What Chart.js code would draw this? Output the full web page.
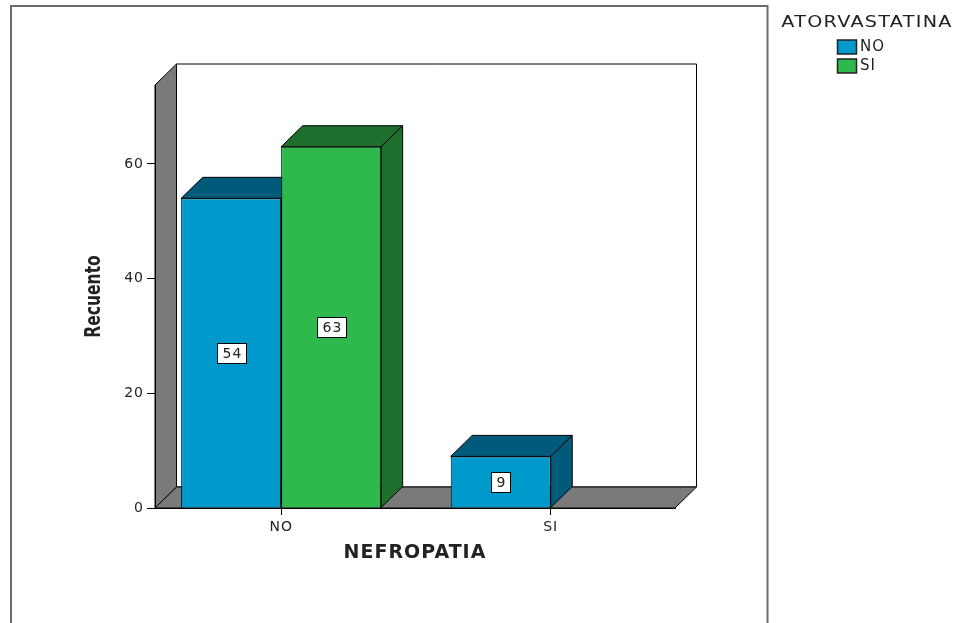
<!DOCTYPE html>
<html>
<head>
<meta charset="utf-8">
<script src="https://cdn.jsdelivr.net/npm/chart.js@4/dist/chart.umd.min.js"></script>
<style>
  html, body { margin: 0; padding: 0; background: #fff; }
  canvas { display: block; }
</style>
</head>
<body>
<canvas id="chart" width="959" height="623"></canvas>
<script>
// NEFROPATIA categories on the x axis
const categories = ['NO', 'SI'];
// ATORVASTATINA groups (legend)
const seriesNames = ['NO', 'SI'];
// Counts (Recuento) per NEFROPATIA category
const countsAtorvNo = [54, 9];
const countsAtorvSi = [63, 0];
// Value axis ticks
const yTicks = [0, 20, 40, 60];

const legendTitle = 'ATORVASTATINA';
const xTitle = 'NEFROPATIA';
const yTitle = 'Recuento';

// colours: front face, top/side face
const frontColors = ['#0099CB', '#2FB84B'];
const shadeColors = ['#005A7A', '#1E6E2E'];
const wallColor = '#7A7A7A';
const textColor = '#222';

// 3D depth offset in pixels
const DX = 21.5, DY = 21;

const depthPlugin = {
  id: 'depth3d',
  beforeDraw(chart) {
    const ctx = chart.ctx;
    const { left: L, right: R, top: T, bottom: B } = chart.chartArea;
    ctx.save();
    ctx.fillStyle = '#fff';
    ctx.fillRect(0, 0, chart.width, chart.height);
    // outer frame
    ctx.strokeStyle = '#6c6c6c';
    ctx.lineWidth = 2;
    ctx.strokeRect(11, 6, 756.5, 700);
    // back wall
    ctx.lineWidth = 1;
    ctx.strokeStyle = '#000';
    ctx.fillStyle = '#fff';
    ctx.beginPath();
    ctx.rect(L + DX, T - DY, R - L, B - T);
    ctx.fill(); ctx.stroke();
    // side wall
    ctx.fillStyle = wallColor;
    ctx.beginPath();
    ctx.moveTo(L, T); ctx.lineTo(L + DX, T - DY); ctx.lineTo(L + DX, B - DY); ctx.lineTo(L, B); ctx.closePath();
    ctx.fill(); ctx.stroke();
    // floor
    ctx.beginPath();
    ctx.moveTo(L, B); ctx.lineTo(R, B); ctx.lineTo(R + DX, B - DY); ctx.lineTo(L + DX, B - DY); ctx.closePath();
    ctx.fill(); ctx.stroke();
    ctx.restore();
    // spacing for the axis texts
    ctx.letterSpacing = '1px';
  },
  beforeDatasetsDraw(chart) {
    const ctx = chart.ctx;
    ctx.save();
    ctx.strokeStyle = '#000';
    ctx.lineWidth = 1;
    chart.data.datasets.forEach((ds, di) => {
      const meta = chart.getDatasetMeta(di);
      meta.data.forEach((bar, i) => {
        if (!ds.data[i].y) return;
        const { x, y, base, width } = bar.getProps(['x', 'y', 'base', 'width'], true);
        const l = x - width / 2, r = x + width / 2;
        ctx.fillStyle = shadeColors[di];
        // top face
        ctx.beginPath();
        ctx.moveTo(l, y); ctx.lineTo(r, y); ctx.lineTo(r + DX, y - DY); ctx.lineTo(l + DX, y - DY); ctx.closePath();
        ctx.fill(); ctx.stroke();
        // side face
        ctx.beginPath();
        ctx.moveTo(r, y); ctx.lineTo(r + DX, y - DY); ctx.lineTo(r + DX, base - DY); ctx.lineTo(r, base); ctx.closePath();
        ctx.fill(); ctx.stroke();
      });
    });
    ctx.restore();
  },
  afterDatasetsDraw(chart) {
    const ctx = chart.ctx;
    ctx.save();
    ctx.font = '14px "DejaVu Sans"';
    ctx.textAlign = 'center';
    ctx.textBaseline = 'middle';
    chart.data.datasets.forEach((ds, di) => {
      const meta = chart.getDatasetMeta(di);
      meta.data.forEach((bar, i) => {
        const v = ds.data[i].y;
        if (!v) return;
        const { x, y, base } = bar.getProps(['x', 'y', 'base'], true);
        const cy = (y + base) / 2;
        const txt = String(v);
        const w = Math.round(ctx.measureText(txt).width + 9);
        const h = 20;
        const bx = Math.round(x - w / 2) + 0.5, by = Math.round(cy - h / 2) + 0.5;
        ctx.fillStyle = '#fff';
        ctx.strokeStyle = '#000';
        ctx.lineWidth = 1;
        ctx.fillRect(bx, by, w, h);
        ctx.strokeRect(bx, by, w, h);
        ctx.fillStyle = textColor;
        ctx.fillText(txt, bx + w / 2 + 0.5, by + h / 2 + 1);
      });
    });
    ctx.restore();
  },
  afterDraw(chart) {
    const ctx = chart.ctx;
    const { top, bottom } = chart.scales.y;
    ctx.save();
    ctx.fillStyle = textColor;
    ctx.textBaseline = 'middle';
    ctx.textAlign = 'center';
    // value axis title, narrow bold face
    ctx.save();
    ctx.translate(95, (top + bottom) / 2);
    ctx.rotate(-Math.PI / 2);
    ctx.scale(0.74, 1);
    ctx.letterSpacing = '0px';
    ctx.font = 'bold 21px "DejaVu Sans"';
    ctx.fillText(yTitle, 0, 0);
    ctx.restore();
    // legend title
    ctx.save();
    ctx.translate(867, 23);
    ctx.scale(1.28, 1);
    ctx.letterSpacing = '1px';
    ctx.font = '15px "DejaVu Sans"';
    ctx.fillText(legendTitle, 0, 0);
    ctx.restore();
    // legend entries
    ctx.letterSpacing = '1px';
    ctx.font = '15px "DejaVu Sans"';
    ctx.textAlign = 'left';
    chart.data.datasets.forEach((ds, i) => {
      const yy = 40 + i * 19;
      ctx.fillStyle = frontColors[i];
      ctx.strokeStyle = '#222';
      ctx.lineWidth = 1.5;
      ctx.fillRect(837.5, yy, 19, 14);
      ctx.strokeRect(837.5, yy, 19, 14);
      ctx.fillStyle = textColor;
      ctx.fillText(ds.label, 860, yy + 7.5);
    });
    ctx.restore();
    ctx.letterSpacing = '0px';
  }
};

const makeSeries = (vals) => vals.map((v, i) => ({ x: i, y: v }));

new Chart(document.getElementById('chart'), {
  type: 'bar',
  data: {
    datasets: [
      { label: seriesNames[0], data: makeSeries(countsAtorvNo), backgroundColor: frontColors[0], borderColor: '#000', borderWidth: 1 },
      { label: seriesNames[1], data: makeSeries(countsAtorvSi), backgroundColor: frontColors[1], borderColor: '#000', borderWidth: 1 }
    ]
  },
  options: {
    responsive: false,
    animation: false,
    events: [],
    layout: { padding: { top: 85, right: 284, left: 0, bottom: 0 } },
    datasets: { bar: { categoryPercentage: 0.742, barPercentage: 1, grouped: true } },
    plugins: { legend: { display: false }, tooltip: { enabled: false } },
    scales: {
      x: {
        type: 'linear',
        offset: false,
        min: -0.468,
        max: 1.461,
        afterFit: (s) => { s.height = 115; },
        afterBuildTicks: (s) => { s.ticks = categories.map((_, i) => ({ value: i })); },
        ticks: {
          callback: (v) => categories[v],
          color: textColor,
          font: { family: 'DejaVu Sans', size: 14 },
          padding: 4,
          maxRotation: 0,
          autoSkip: false
        },
        grid: { offset: false, drawOnChartArea: false, drawTicks: true, tickLength: 7, color: '#000', tickColor: '#000' },
        border: { display: true, color: '#000', width: 1 },
        title: {
          display: true,
          text: xTitle,
          color: textColor,
          font: { family: 'DejaVu Sans', weight: 'bold', size: 19 },
          padding: { top: 0, bottom: 59 }
        }
      },
      y: {
        min: 0,
        max: 73.76,
        afterFit: (s) => { s.width = 155; },
        afterBuildTicks: (s) => { s.ticks = yTicks.map((v) => ({ value: v })); },
        ticks: {
          color: textColor,
          font: { family: 'DejaVu Sans', size: 14 },
          padding: 3
        },
        grid: { drawOnChartArea: false, drawTicks: true, tickLength: 8, color: '#000', tickColor: '#000' },
        border: { display: true, color: '#000', width: 1 }
      }
    }
  },
  plugins: [depthPlugin]
});
</script>
</body>
</html>
